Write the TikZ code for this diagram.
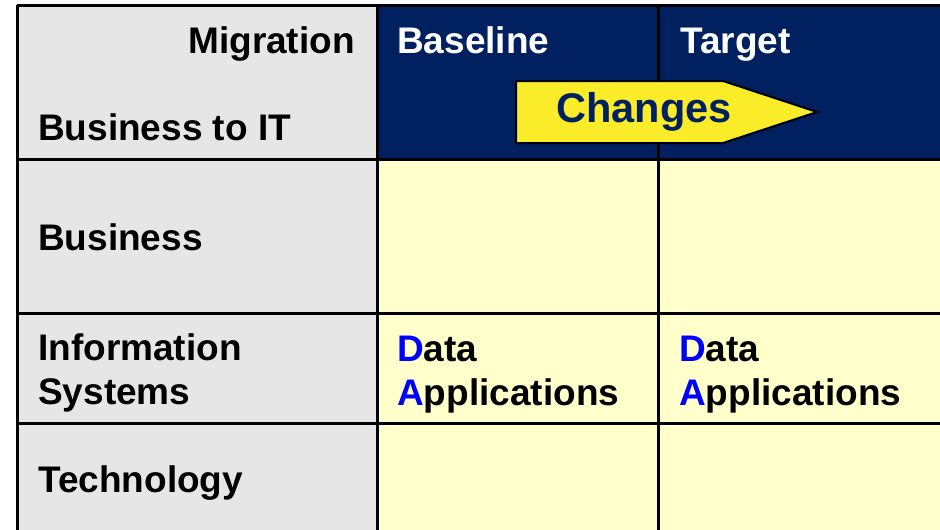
\documentclass[tikz,border=0pt]{standalone}
\usepackage{fontspec}
\setmainfont{Liberation Sans}
\usepackage{xcolor}
\definecolor{headblue}{RGB}{0,32,96}
\definecolor{cellyellow}{RGB}{255,255,204}
\definecolor{cellgray}{RGB}{230,230,230}
\definecolor{arrowyellow}{RGB}{250,236,40}
\definecolor{letterblue}{RGB}{0,0,255}
\tikzset{label text/.style = {inner sep=0pt, font=\bfseries\fontsize{37}{44}\selectfont, align=left}}
\tikzset{grid line/.style = {line width=3pt, black}}
\newcommand{\firstblue}[2]{\textcolor{letterblue}{#1}#2}

\begin{document}
\begin{tikzpicture}[x=1pt,y=-1pt]
                \useasboundingbox (0,0) rectangle (940,530);
                \fill[white] (0,0) rectangle (940,530);

                \fill[cellgray] (17,5) rectangle (377,530);
                \fill[headblue] (377,5) rectangle (940,159);
                \fill[cellyellow] (377,159) rectangle (940,530);

                \draw[grid line] (17,5) -- (940,5);
                \draw[grid line] (17,159) -- (940,159);
                \draw[grid line] (17,313) -- (940,313);
                \draw[grid line] (17,423) -- (940,423);
                \draw[grid line] (17,5) -- (17,530);
                \draw[grid line] (377,5) -- (377,530);
                \draw[grid line] (658,5) -- (658,530);

                \node[label text, anchor=base east] (migr) at (355,53) {Migration};
                \node[label text, anchor=base west] (b2it) at (38,140) {Business to IT};
                \node[label text, anchor=base west, white] (base) at (397,53) {Baseline};
                \node[label text, anchor=base west, white] (targ) at (680,53) {Target};

                \draw[fill=arrowyellow, line width=2pt] (516,81) -- (723,81) -- (817,112) -- (723,143) -- (516,143) -- cycle;
                \node[inner sep=0pt, anchor=base, headblue, font=\bfseries\fontsize{41.5}{48}\selectfont] (chg) at (644,122) {Changes};

                \node[label text, anchor=base west] (busi) at (38,250) {Business};
                % base anchor sits on the last line
                \node[label text, anchor=base west] (info) at (38,404) {Information\\Systems};
                \node[label text, anchor=base west] (tech) at (38,492) {Technology};

                \node[label text, anchor=base west] (bda) at (397,405) {\firstblue{D}{ata}\\\firstblue{A}{pplications}};
                \node[label text, anchor=base west] (tda) at (679,405) {\firstblue{D}{ata}\\\firstblue{A}{pplications}};
            \end{tikzpicture}
\end{document}
